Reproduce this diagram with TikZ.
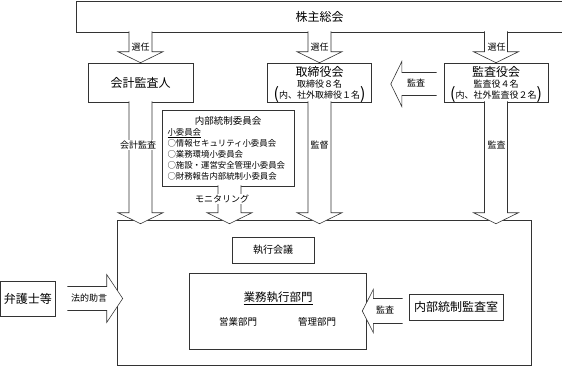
\documentclass[tikz,border=0pt]{standalone}
\usepackage{fontspec}
\setmainfont{Noto Sans CJK JP}
\usetikzlibrary{calc}

\newcommand{\subsize}{\fontsize{9}{11}\selectfont}
\newcommand{\bigparen}[1]{\smash{\raisebox{-1.5pt}{\fontsize{16}{16}\selectfont #1}}}

\tikzset{
  fat shaft/.store in=\fatshaft, fat shaft=11.5,
  fat head/.store in=\fathead, fat head=22.5,
  fat len/.store in=\fatlen, fat len=11
}

\begin{document}
\begin{tikzpicture}[
  x=1pt, y=-1pt,
  line/.style={draw=black!80, line width=0.6pt},
  box/.style={line, fill=white, inner sep=0pt, align=center, font=\fontsize{12}{14}\selectfont},
  tag/.style={font=\fontsize{9}{10}\selectfont, inner sep=1pt},
  fatdown/.style={line, fill=white, to path={
    ($(\tikztostart)+(-\fatshaft,-1)$) -- ($(\tikztotarget)+(-\fatshaft,-\fatlen)$)
    -- ($(\tikztotarget)+(-\fathead,-\fatlen)$) -- (\tikztotarget)
    -- ($(\tikztotarget)+(\fathead,-\fatlen)$) -- ($(\tikztotarget)+(\fatshaft,-\fatlen)$)
    -- ($(\tikztostart)+(\fatshaft,-1)$)}},
  fatleft/.style={line, fill=white, to path={
    ($(\tikztostart)+(0,-\fatshaft)$) -- ($(\tikztotarget)+(\fatlen,-\fatshaft)$)
    -- ($(\tikztotarget)+(\fatlen,-\fathead)$) -- (\tikztotarget)
    -- ($(\tikztotarget)+(\fatlen,\fathead)$) -- ($(\tikztotarget)+(\fatlen,\fatshaft)$)
    -- ($(\tikztostart)+(0,\fatshaft)$)}},
  fatright/.style={line, fill=white, to path={
    ($(\tikztostart)+(0,-\fatshaft)$) -- ($(\tikztotarget)+(-\fatlen,-\fatshaft)$)
    -- ($(\tikztotarget)+(-\fatlen,-\fathead)$) -- (\tikztotarget)
    -- ($(\tikztotarget)+(-\fatlen,\fathead)$) -- ($(\tikztotarget)+(-\fatlen,\fatshaft)$)
    -- ($(\tikztostart)+(0,\fatshaft)$)}}
]
\useasboundingbox (0,0) rectangle (562,367);

% upper row
\node[box, minimum width=487pt, minimum height=31pt] (sokai) at (319.5,16.5) {株主総会};
\node[box, minimum width=105pt, minimum height=39pt] (kaikei) at (140.5,82.5) {会計監査人};
\node[box, minimum width=104pt, minimum height=39pt] (torishimari) at (319.5,82.5)
  {取締役会\\[-3pt]{\subsize 取締役８名}\\[-3pt]{\subsize\bigparen{(}内、社外取締役１名\bigparen{)}}};
\node[box, minimum width=104pt, minimum height=39pt] (kansayaku) at (496,82.5)
  {監査役会\\[-3pt]{\subsize 監査役４名}\\[-3pt]{\subsize\bigparen{(}内、社外監査役２名\bigparen{)}}};
\node[box, minimum width=132pt, minimum height=76pt, text width=121pt, align=left,
  font=\fontsize{8.4}{11}\selectfont] (iinkai) at (228,148)
  {\makebox[121pt]{\fontsize{9.5}{11}\selectfont 内部統制委員会}\\
   \underline{小委員会}\\
   ○情報セキュリティ小委員会\\
   ○業務環境小委員会\\
   ○施設・運営安全管理小委員会\\
   ○財務報告内部統制小委員会};

% execution area
\node[box, minimum width=414pt, minimum height=145pt] (shikko) at (324,292.5) {};
\node[box, minimum width=82pt, minimum height=26pt, font=\fontsize{10}{12}\selectfont] (kaigi) at (273,250) {執行会議};
\node[box, minimum width=177pt, minimum height=76pt] (gyomu) at (277.5,311) {};
\node[font=\fontsize{11.5}{13}\selectfont] (gyomu title) at (278,298) {\underline{業務執行部門}};
\node[font=\fontsize{9.5}{11}\selectfont] (eigyo) at (238,322) {営業部門};
\node[font=\fontsize{9.5}{11}\selectfont] (kanri) at (317,322) {管理部門};
\node[box, minimum width=94pt, minimum height=26pt] (kansashitsu) at (456,307) {内部統制監査室};
\node[box, minimum width=54.5pt, minimum height=35pt] (bengoshi) at (27.75,298.5) {弁護士等};

% block arrows
\draw[fatdown] (sokai.south -| kaikei.north) to (kaikei.north);
\draw[fatdown] (sokai.south -| torishimari.north) to (torishimari.north);
\draw[fatdown] (sokai.south -| kansayaku.north) to (kansayaku.north);
\draw[fatdown] (kaikei.south) to ([yshift=-4pt]kaikei.south |- shikko.north);
\draw[fatdown] ([xshift=1.5pt]iinkai.south) to ([xshift=1.5pt,yshift=-4pt]iinkai.south |- shikko.north);
\draw[fatdown] (torishimari.south) to ([yshift=-4pt]torishimari.south |- shikko.north);
\draw[fatdown] (kansayaku.south) to ([yshift=-4pt]kansayaku.south |- shikko.north);

\coordinate (kansa tail) at ([xshift=-7pt,yshift=-1.5pt]kansayaku.west);
\draw[fatleft] (kansa tail) to ([xshift=19pt]kansa tail -| torishimari.east);
\coordinate (naibu tail) at ([xshift=-6pt]kansashitsu.west |- gyomu.east);
\draw[fatleft, fat head=21.5, fat shaft=12.5] (naibu tail) to ([xshift=-4pt]gyomu.east);
\coordinate (hoteki tail) at ([xshift=12pt]bengoshi.east);
\draw[fatright, fat len=16, fat head=24, fat shaft=12] (hoteki tail) to ([xshift=6pt]hoteki tail -| shikko.west);

% labels
\node[tag] (sennin a) at (140.5,47) {選任};
\node[tag] (sennin b) at (319.5,47) {選任};
\node[tag] (sennin c) at (496.5,47) {選任};
\node[tag] (kansa a) at (416,83) {監査};
\node[tag, fill=white] (kaikei kansa) at (138,145) {会計監査};
\node[tag] (kantoku) at (319.5,145) {監督};
\node[tag] (kansa c) at (496.5,145) {監査};
\node[tag, fill=white] (monitor) at (222,199) {モニタリング};
\node[tag] (hoteki) at (89,298) {法的助言};
\node[tag] (kansa b) at (385,310) {監査};
\end{tikzpicture}
\end{document}
